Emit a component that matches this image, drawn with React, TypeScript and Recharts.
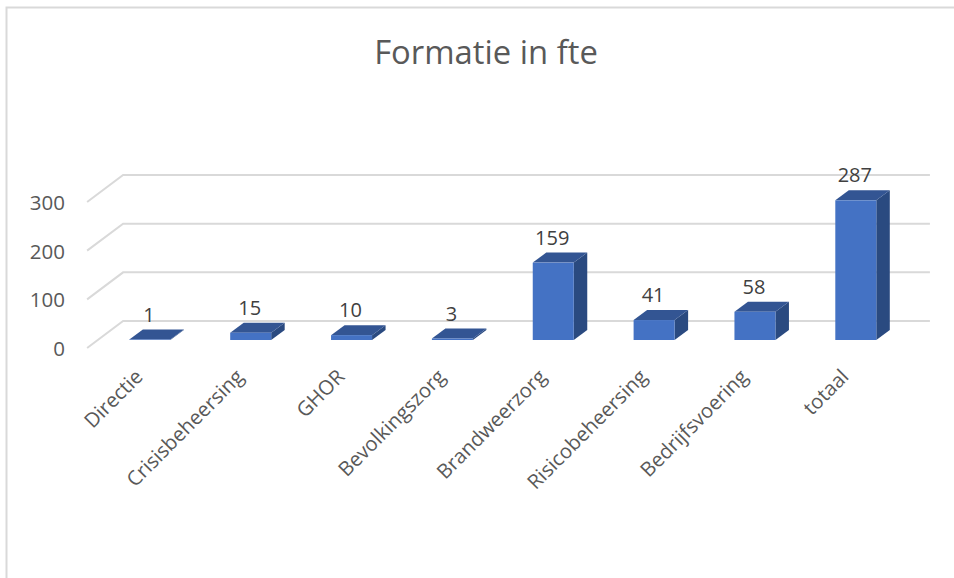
import React from "react";
import { BarChart, Bar, XAxis, YAxis, CartesianGrid, LabelList } from "recharts";

const categories = ["Directie", "Crisisbeheersing", "GHOR", "Bevolkingszorg", "Brandweerzorg", "Risicobeheersing", "Bedrijfsvoering", "totaal"];
const values = [1, 15, 10, 3, 159, 41, 58, 287];
const yTicks = [0, 100, 200, 300];
const titleText = "Formatie in fte";

const rows = categories.map((name, i) => ({ name, value: values[i] }));
const FONT = "'Open Sans', sans-serif";
const DX = 13.5;
const DY = 10;

function Bar3D(props: any) {
  const { x, y, width, height } = props;
  const b = y + height;
  const r = x + width;
  return (
    <g>
      <polygon points={`${r},${y} ${r + DX},${y - DY} ${r + DX},${b - DY} ${r},${b}`} fill="#2A4A80" />
      <polygon points={`${x},${y} ${x + DX},${y - DY} ${r + DX},${y - DY} ${r},${y}`} fill="#335593" />
      <rect x={x} y={y} width={width} height={height} fill="#4472C4" />
    </g>
  );
}

function GridLine(props: any) {
  const { y1, x1, x2 } = props;
  const by = y1 - 19;
  return (
    <polyline
      points={`${x1 - 12.5},${by + 27} ${x1 + 23.5},${by} ${x2 + 23.5},${by}`}
      fill="none"
      stroke="#D9D9D9"
      strokeWidth={2}
    />
  );
}

function XTick(props: any) {
  const { x, payload } = props;
  const ax = x - 6;
  const ay = 378;
  return (
    <text x={ax} y={ay} transform={`rotate(-45 ${ax} ${ay})`} textAnchor="end" fontFamily={FONT} fontSize={20.2} fill="#595959">
      {payload.value}
    </text>
  );
}

function YTick(props: any) {
  const { y, payload } = props;
  return (
    <text x={65} y={y + 16} textAnchor="end" fontFamily={FONT} fontSize={20.5} fill="#595959">
      {payload.value}
    </text>
  );
}

function ValueLabel(props: any) {
  const { x, y, width, value } = props;
  return (
    <text x={x + width / 2 - 1} y={y - 18} textAnchor="middle" fontFamily={FONT} fontSize={20} fill="#404040">
      {value}
    </text>
  );
}

export default function App() {
  return (
    <div style={{ position: "absolute", left: 0, top: 0, width: 954, height: 578, background: "#fff" }}>
      <BarChart
        width={954}
        height={578}
        data={rows}
        barCategoryGap="29.5%"
        margin={{ top: 194, right: 47.6, bottom: 0, left: 0 }}
      >
        <rect x={6.5} y={7.5} width={960} height={590} fill="none" stroke="#D9D9D9" strokeWidth={2} />
        <text x={486} y={64} textAnchor="middle" fontFamily={FONT} fontSize={32.8} fill="#595959">
          {titleText}
        </text>
        <CartesianGrid vertical={false} horizontal={(p: any) => <GridLine {...p} />} />
        <XAxis dataKey="name" axisLine={false} tickLine={false} interval={0} height={238} tick={<XTick />} />
        <YAxis domain={[0, 300]} ticks={yTicks} width={99.6} axisLine={false} tickLine={false} tick={<YTick />} />
        <Bar dataKey="value" isAnimationActive={false} shape={<Bar3D />}>
          <LabelList dataKey="value" content={<ValueLabel />} />
        </Bar>
      </BarChart>
    </div>
  );
}
